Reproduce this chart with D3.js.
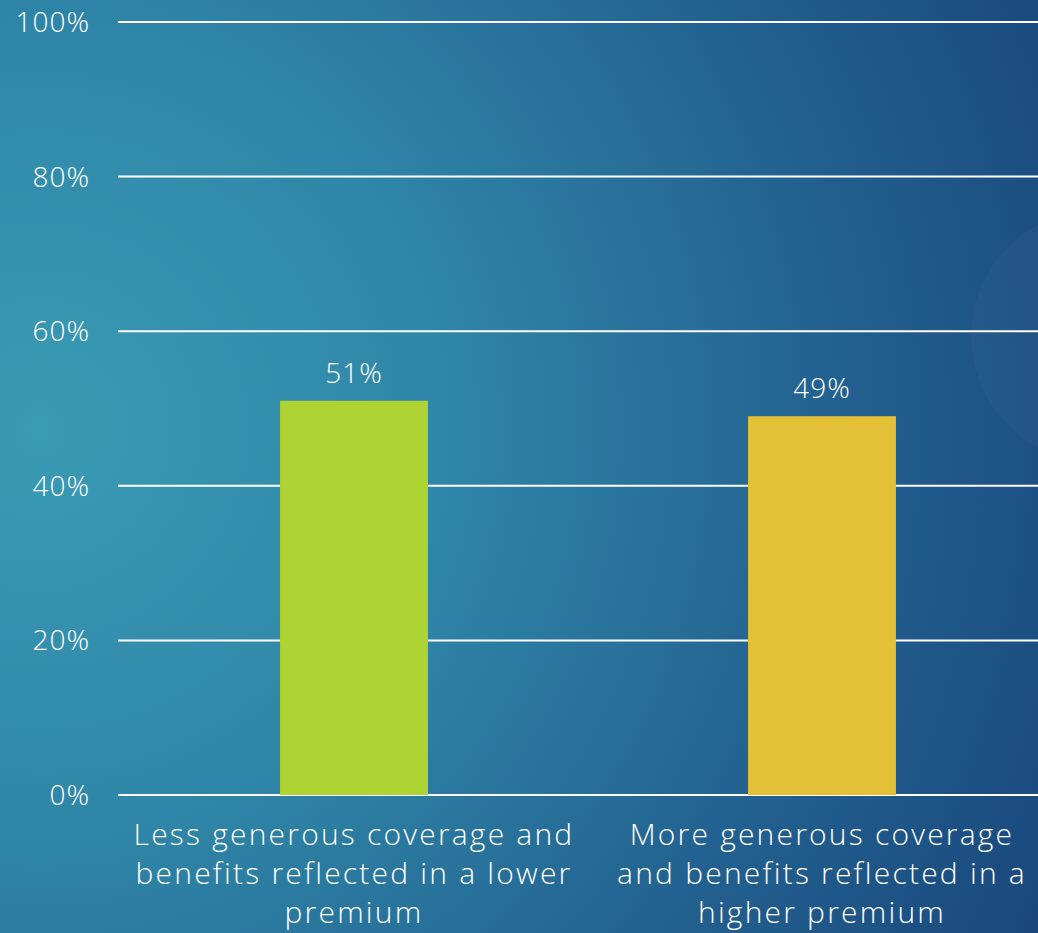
<!DOCTYPE html>
<html>
<head>
<meta charset="utf-8">
<script src="https://cdn.jsdelivr.net/npm/d3@7"></script>
<style>
  html, body { margin: 0; padding: 0; overflow: hidden; background: #1d5283; }
  svg { display: block; }
  text { font-family: "Open Sans", "DejaVu Sans", sans-serif; font-weight: 300; fill: #ffffff; }
</style>
</head>
<body>
<svg id="chart" width="1038" height="933"></svg>
<script>
// Survey split between the two plan options
const categories = [
  "Less generous coverage and benefits reflected in a lower premium",
  "More generous coverage and benefits reflected in a higher premium"
];
const categoryLines = [
  ["Less generous coverage and", "benefits reflected in a lower", "premium"],
  ["More generous coverage", "and benefits reflected in a", "higher premium"]
];
const shares = [51, 49];
const barColors = ["#add433", "#e4c036"];
const tickValues = [0, 20, 40, 60, 80, 100];

const W = 1038, H = 933;
const svg = d3.select("#chart");

// Background: teal glow on the left fading into deep blue
const defs = svg.append("defs");
const bg = defs.append("radialGradient")
  .attr("id", "bg").attr("gradientUnits", "userSpaceOnUse")
  .attr("cx", 40).attr("cy", 430).attr("r", 1150);
bg.append("stop").attr("offset", 0).attr("stop-color", "#3a9bb4");
bg.append("stop").attr("offset", 0.35).attr("stop-color", "#2f86a8");
bg.append("stop").attr("offset", 0.7).attr("stop-color", "#22608f");
bg.append("stop").attr("offset", 1).attr("stop-color", "#19457a");
svg.append("rect").attr("width", W).attr("height", H).attr("fill", "url(#bg)");

// faint decorative disc at the right edge
svg.append("circle")
  .attr("cx", 1097).attr("cy", 336).attr("r", 126)
  .attr("fill", "#ffffff").attr("fill-opacity", 0.022);

const x = d3.scaleBand()
  .domain(categories)
  .range([120, 1056])
  .paddingInner(0.684)
  .paddingOuter(0.342);

const y = d3.scaleLinear().domain([0, 100]).range([795, 22]);

// gridlines
svg.append("g")
  .selectAll("line")
  .data(tickValues)
  .join("line")
  .attr("x1", 118).attr("x2", W)
  .attr("y1", d => y(d)).attr("y2", d => y(d))
  .attr("stroke", "#ffffff").attr("stroke-width", 2);

// y axis labels
svg.append("g")
  .selectAll("text")
  .data(tickValues)
  .join("text")
  .attr("x", 90)
  .attr("y", d => y(d) + 10)
  .attr("text-anchor", "end")
  .style("font-size", "28px")
  .style("letter-spacing", "1px")
  .text(d => d + "%");

// value labels
svg.append("g")
  .selectAll("text")
  .data(shares)
  .join("text")
  .attr("x", (d, i) => x(categories[i]) + x.bandwidth() / 2)
  .attr("y", d => y(d) - 18)
  .attr("text-anchor", "middle")
  .style("font-size", "28px")
  .style("letter-spacing", "1px")
  .text(d => d + "%");

// bars
svg.append("g")
  .selectAll("rect")
  .data(shares)
  .join("rect")
  .attr("x", (d, i) => x(categories[i]))
  .attr("width", x.bandwidth())
  .attr("y", d => y(d))
  .attr("height", d => y(0) - y(d))
  .attr("fill", (d, i) => barColors[i]);

// category labels
const cat = svg.append("g")
  .selectAll("text")
  .data(categories)
  .join("text")
  .attr("x", d => x(d) + x.bandwidth() / 2)
  .attr("y", 845)
  .attr("text-anchor", "middle")
  .style("font-size", "30px")
  .style("letter-spacing", "2.2px");
cat.selectAll("tspan")
  .data((d, i) => categoryLines[i])
  .join("tspan")
  .attr("x", function () { return this.parentNode.getAttribute("x"); })
  .attr("dy", (d, j) => j === 0 ? 0 : 39)
  .text(d => d);
</script>
</body>
</html>
